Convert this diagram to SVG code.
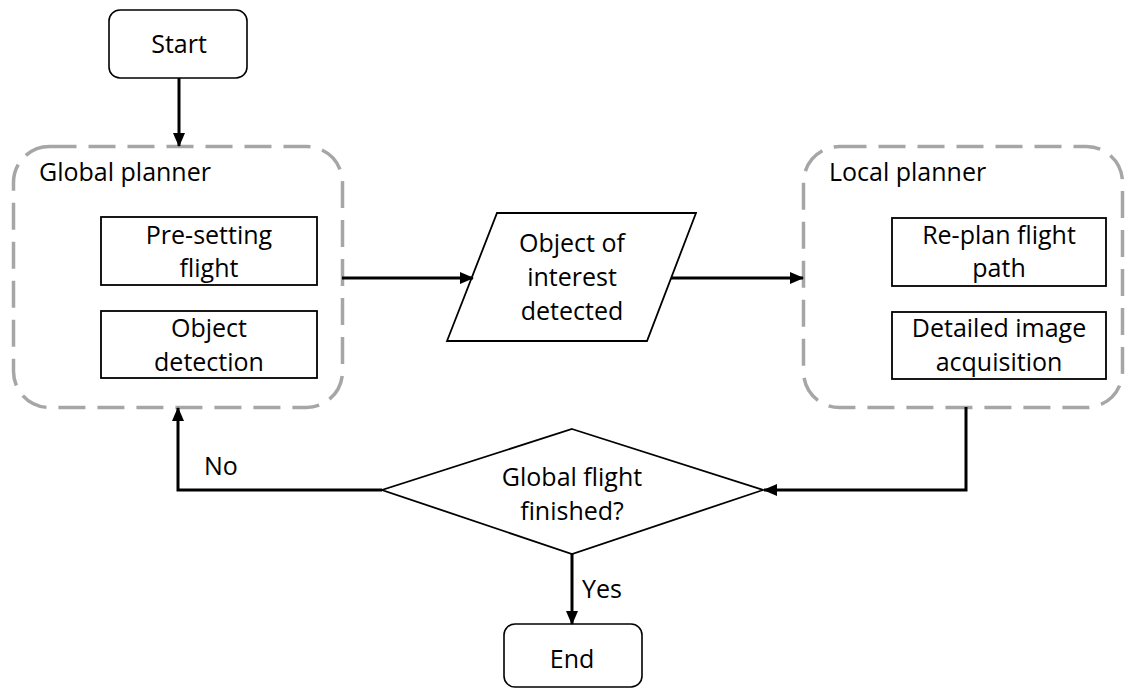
<svg xmlns="http://www.w3.org/2000/svg" width="1126" height="689" viewBox="0 0 1126 689">
  <style>
    text { font-family: "Open Sans", "Liberation Sans", sans-serif; font-size: 25px; fill: #000; }
    .c { text-anchor: middle; }
    .term { fill: #fff; stroke: #000; stroke-width: 1.6; }
    .box { fill: #fff; stroke: #000; stroke-width: 1.8; }
    .group { fill: none; stroke: #a6a6a6; stroke-width: 3.5; stroke-dasharray: 27 12; }
    .flow { fill: none; stroke: #000; stroke-width: 3; }
  </style>
  <defs>
    <marker id="arrow" markerUnits="userSpaceOnUse" markerWidth="14" markerHeight="12" refX="13" refY="6" orient="auto">
      <path d="M0,0 L14,6 L0,12 Z" fill="#000"/>
    </marker>
  </defs>

  <rect width="1126" height="689" fill="#fff"/>

  <!-- planner containers -->
  <g id="global-planner">
    <rect class="group" x="13.5" y="146.5" width="329" height="261" rx="36"/>
    <text x="39" y="181">Global planner</text>
  </g>
  <g id="local-planner">
    <rect class="group" x="803.5" y="146.5" width="319" height="261" rx="36"/>
    <text x="829" y="181">Local planner</text>
  </g>

  <!-- nodes -->
  <g id="start">
    <rect class="term" x="109" y="10" width="138" height="68" rx="11"/>
    <text class="c" x="179" y="53">Start</text>
  </g>
  <g id="presetting-flight">
    <rect class="box" x="101" y="217" width="216" height="68"/>
    <text class="c" x="209" y="244">Pre-setting</text>
    <text class="c" x="209" y="277">flight</text>
  </g>
  <g id="object-detection">
    <rect class="box" x="101" y="311" width="216" height="67"/>
    <text class="c" x="209" y="337">Object</text>
    <text class="c" x="209" y="371">detection</text>
  </g>
  <g id="object-detected">
    <polygon class="box" points="497,213 696,213 647,341 447,341"/>
    <text class="c" x="572" y="252">Object of</text>
    <text class="c" x="572" y="286">interest</text>
    <text class="c" x="572" y="320">detected</text>
  </g>
  <g id="replan-path">
    <rect class="box" x="892" y="218" width="214" height="68"/>
    <text class="c" x="999" y="244">Re-plan flight</text>
    <text class="c" x="999" y="277">path</text>
  </g>
  <g id="image-acquisition">
    <rect class="box" x="892" y="312" width="214" height="67"/>
    <text class="c" x="999" y="337">Detailed image</text>
    <text class="c" x="999" y="371">acquisition</text>
  </g>
  <g id="flight-finished">
    <polygon class="box" points="572,429 763,490 572,554 382,490"/>
    <text class="c" x="572" y="486">Global flight</text>
    <text class="c" x="572" y="520">finished?</text>
  </g>
  <g id="end">
    <rect class="term" x="504" y="624" width="138" height="63" rx="11"/>
    <text class="c" x="572" y="668">End</text>
  </g>

  <!-- connectors -->
  <g id="connectors">
    <path class="flow" d="M179,78 V146" marker-end="url(#arrow)"/>
    <path class="flow" d="M342,278 H473" marker-end="url(#arrow)"/>
    <path class="flow" d="M671,278 H803" marker-end="url(#arrow)"/>
    <path class="flow" d="M966,407 V490 H764" marker-end="url(#arrow)"/>
    <path class="flow" d="M382,490 H178 V408" marker-end="url(#arrow)"/>
    <path class="flow" d="M572,554 V624" marker-end="url(#arrow)"/>
    <text x="204" y="475">No</text>
    <text x="582" y="598">Yes</text>
  </g>
</svg>
